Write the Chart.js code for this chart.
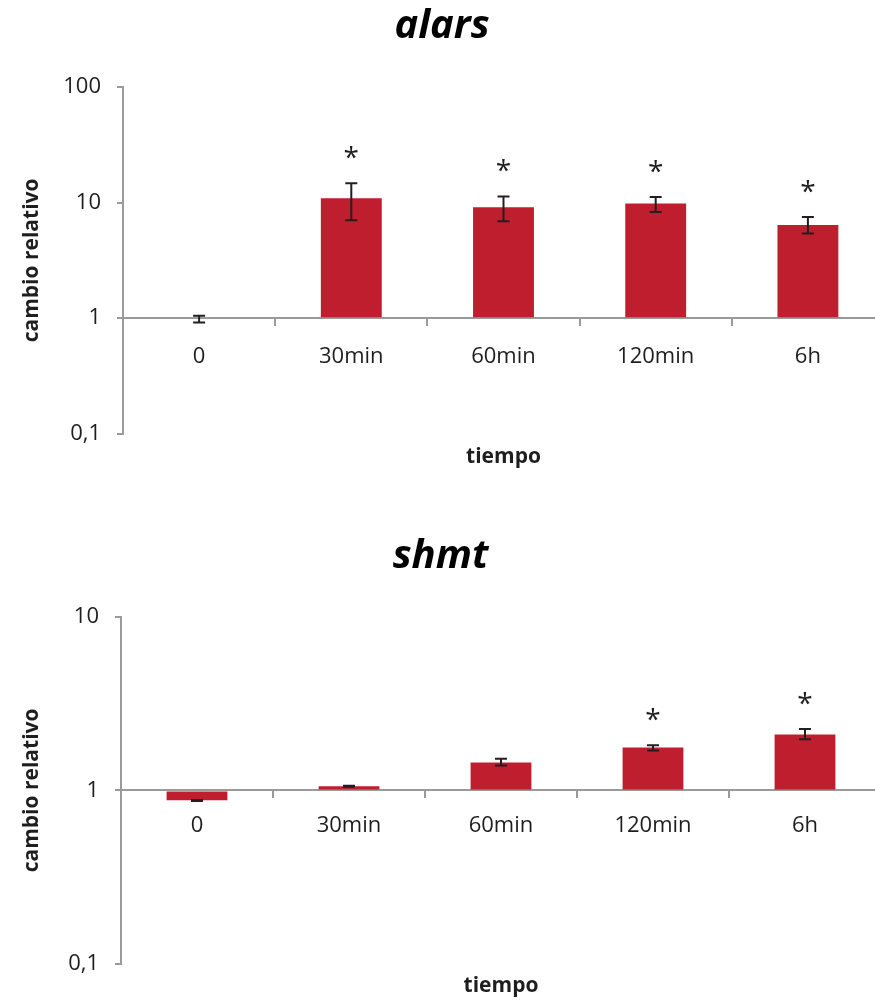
<!DOCTYPE html>
<html>
<head>
<meta charset="utf-8">
<script src="https://cdn.jsdelivr.net/npm/chart.js@4/dist/chart.umd.min.js"></script>
<style>
  html, body { margin: 0; padding: 0; background: #fff; overflow: hidden; }
  .panel { position: absolute; left: 0; }
  #p1 { top: 0; width: 884px; height: 480px; }
  #p2 { top: 530px; width: 881px; height: 471px; }
</style>
</head>
<body>
<div class="panel" id="p1"><canvas id="c1"></canvas></div>
<div class="panel" id="p2"><canvas id="c2"></canvas></div>
<script>
// Time points sampled
const categories = ['0', '30min', '60min', '120min', '6h'];

// alars: relative change, error limits, significance
const alarsValues = [1.0, 10.9, 9.1, 9.8, 6.4];
const alarsLow    = [0.92, 7.05, 6.9, 8.3, 5.4];
const alarsHigh   = [1.05, 14.7, 11.3, 11.2, 7.5];
const alarsSig    = [false, true, true, true, true];
const alarsTicks  = [0.1, 1, 10, 100];
const alarsTickLabels = ['0,1', '1', '10', '100'];

// shmt: relative change, error limits, significance
const shmtValues = [0.876, 1.055, 1.45, 1.77, 2.10];
const shmtLow    = [0.870, 1.048, 1.39, 1.70, 1.97];
const shmtHigh   = [0.880, 1.062, 1.52, 1.82, 2.26];
const shmtSig    = [false, false, false, true, true];
const shmtTicks  = [0.1, 1, 10];
const shmtTickLabels = ['0,1', '1', '10'];

const FONT = '"Open Sans", Lato, sans-serif';
const AXIS_GREY = '#9a9a9a';
const TEXT = '#1e1e1e';
const BAR_RED = '#be1e2d';

// Error bars and significance asterisks drawn on top of the bars
const errorBarPlugin = {
  id: 'errorBars',
  afterDatasetsDraw(chart, args, opts) {
    const ctx = chart.ctx;
    const xs = chart.scales.x, ys = chart.scales.y;
    ctx.save();
    ctx.strokeStyle = '#231f20';
    ctx.lineWidth = 2;
    opts.low.forEach((lo, i) => {
      const x = xs.getPixelForValue(i);
      const yLo = ys.getPixelForValue(lo);
      const yHi = ys.getPixelForValue(opts.high[i]);
      ctx.beginPath();
      ctx.moveTo(x, yLo); ctx.lineTo(x, yHi);
      ctx.moveTo(x - 6, yLo); ctx.lineTo(x + 6, yLo);
      ctx.moveTo(x - 6, yHi); ctx.lineTo(x + 6, yHi);
      ctx.stroke();
      if (opts.sig[i]) {
        ctx.fillStyle = TEXT;
        ctx.font = '28px ' + FONT;
        ctx.textAlign = 'center';
        ctx.textBaseline = 'alphabetic';
        ctx.fillText('*', x, yHi - 16);
      }
    });
    ctx.restore();
  }
};

function makeChart(id, title, values, low, high, sig, ticks, tickLabels, axisWidth, subPad, labelPad) {
  return new Chart(document.getElementById(id), {
    type: 'bar',
    data: {
      labels: categories,
      datasets: [{
        data: values,
        base: 1,
        backgroundColor: BAR_RED,
        borderWidth: 0,
        barPercentage: 0.4,
        categoryPercentage: 1.0
      }]
    },
    plugins: [errorBarPlugin],
    options: {
      responsive: true,
      maintainAspectRatio: false,
      animation: false,
      layout: { padding: 0 },
      plugins: {
        legend: { display: false },
        tooltip: { enabled: false },
        title: {
          display: true,
          text: title,
          color: '#000',
          font: { family: FONT, size: 40, weight: 'bold', style: 'italic' },
          padding: { top: 3, bottom: 36 }
        },
        subtitle: {
          display: true,
          position: 'bottom',
          fullSize: false,
          text: 'tiempo',
          color: TEXT,
          font: { family: FONT, size: 21, weight: 'bold' },
          padding: subPad
        },
        errorBars: { low, high, sig }
      },
      scales: {
        x: {
          position: { y: 1 },
          border: { display: true, color: AXIS_GREY, width: 2 },
          grid: { display: true, drawOnChartArea: false, drawTicks: true, tickLength: 7, color: AXIS_GREY, lineWidth: 2, offset: true },
          ticks: { color: TEXT, font: { family: FONT, size: 22 }, padding: labelPad, maxRotation: 0 }
        },
        y: {
          type: 'logarithmic',
          min: ticks[0],
          max: ticks[ticks.length - 1],
          afterBuildTicks: s => { s.ticks = ticks.map(v => ({ value: v })); },
          afterFit: s => { s.width = axisWidth; },
          border: { display: true, color: AXIS_GREY, width: 2 },
          grid: { display: true, drawOnChartArea: false, drawTicks: true, tickLength: 6, color: AXIS_GREY, lineWidth: 2 },
          ticks: {
            color: TEXT,
            font: { family: FONT, size: 22 },
            padding: 16,
            callback: v => tickLabels[ticks.indexOf(v)]
          },
          title: {
            display: true,
            text: 'cambio relativo',
            color: TEXT,
            font: { family: FONT, size: 21, weight: 'bold' },
            padding: { top: 19, bottom: 0 }
          }
        }
      }
    }
  });
}

makeChart('c1', 'alars', alarsValues, alarsLow, alarsHigh, alarsSig, alarsTicks, alarsTickLabels, 123, { top: 11, bottom: 10 }, 18);
makeChart('c2', 'shmt', shmtValues, shmtLow, shmtHigh, shmtSig, shmtTicks, shmtTickLabels, 121, { top: 10, bottom: 2 }, 15);
</script>
</body>
</html>
